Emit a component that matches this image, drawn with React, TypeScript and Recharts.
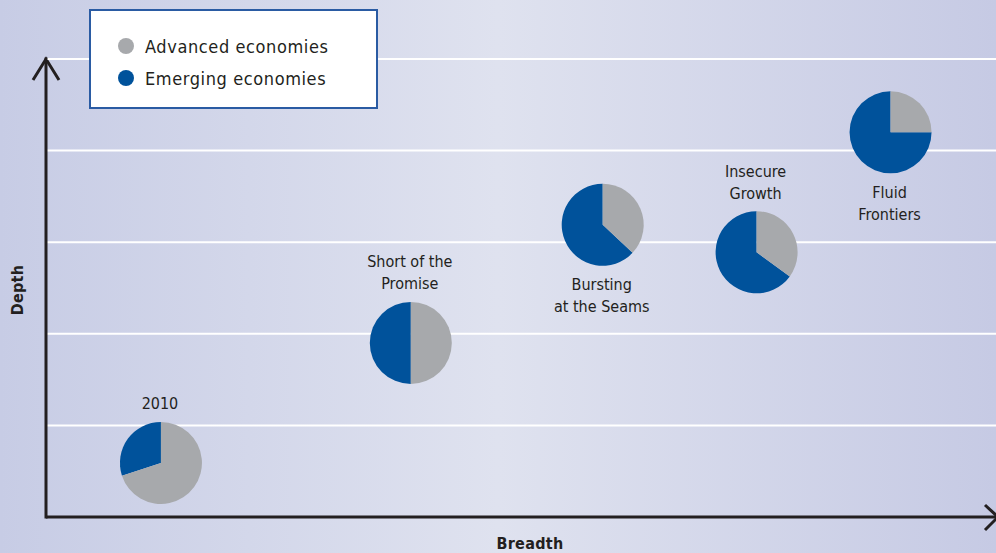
import React from 'react';
import {
  ScatterChart,
  Scatter,
  XAxis,
  YAxis,
  ReferenceLine,
  Sector,
  Legend,
  Customized,
} from 'recharts';

const scenarioLines = [
  ['2010'],
  ['Short of the', 'Promise'],
  ['Bursting', 'at the Seams'],
  ['Insecure', 'Growth'],
  ['Fluid', 'Frontiers'],
];
const breadth = [12.1, 38.4, 58.6, 74.8, 88.9];
const depth = [0.59, 1.9, 3.19, 2.89, 4.2];
const advancedShare = [70, 50, 37, 35, 25];
const emergingShare = [30, 50, 63, 65, 75];
const seriesNames = ['Advanced economies', 'Emerging economies'];
const depthTicks = [0, 1, 2, 3, 4, 5];

// which side of the pie the scenario name sits on
const labelSide = ['above', 'above', 'below', 'above', 'below'];

const W = 996;
const H = 553;
const Y_AXIS_W = 46;
const X_AXIS_H = 36;
const TOP = 59;
const GREY = '#a7a9ac';
const BLUE = '#00529b';
const INK = '#231f20';
const FONT = '"Liberation Sans Narrow", "DejaVu Sans Condensed", "Liberation Sans", sans-serif';
const R = 41;

const data = breadth.map((b, i) => ({
  breadth: b,
  depth: depth[i],
  advanced: advancedShare[i],
  emerging: emergingShare[i],
  lines: scenarioLines[i],
  side: labelSide[i],
}));

function PieMark(props: any) {
  const { cx, cy, payload } = props;
  const total = payload.advanced + payload.emerging;
  const split = 90 + (payload.emerging / total) * 360;
  const lh = 22;
  const lines: string[] = payload.lines;
  const firstY =
    payload.side === 'above'
      ? cy - R - 18 - (lines.length - 1) * lh
      : cy + R + 19;
  return (
    <g>
      <Sector cx={cx} cy={cy} innerRadius={0} outerRadius={R} startAngle={90} endAngle={split} fill={BLUE} />
      <Sector cx={cx} cy={cy} innerRadius={0} outerRadius={R} startAngle={split} endAngle={450} fill={GREY} />
      {lines.map((l, k) => (
        <text
          key={k}
          x={cx - 1}
          y={firstY + k * lh}
          textAnchor="middle"
          dominantBaseline="central"
          fill={INK}
          style={{ fontFamily: FONT, fontSize: 16 }}
        >
          {l}
        </text>
      ))}
    </g>
  );
}

function Arrows() {
  const L = Y_AXIS_W;
  const B = H - X_AXIS_H;
  const Rt = W;
  return (
    <g stroke={INK} strokeWidth={3} fill="none">
      <polyline points={`${L - 13},${TOP + 21} ${L},${TOP} ${L + 13},${TOP + 21}`} />
      <polyline points={`${Rt - 11},${B - 12} ${Rt + 2},${B} ${Rt - 11},${B + 13}`} />
    </g>
  );
}

function LegendBox() {
  const colors = [GREY, BLUE];
  return (
    <div
      style={{
        position: 'relative',
        width: 289,
        height: 100,
        boxSizing: 'border-box',
        background: '#fff',
        border: '2px solid #2a5ba3',
        fontFamily: FONT,
      }}
    >
      {seriesNames.map((n, i) => (
        <div key={n} style={{ position: 'absolute', left: 27, top: 23 + i * 32, height: 24, display: 'flex', alignItems: 'center' }}>
          <span style={{ width: 16, height: 16, borderRadius: 8, background: colors[i], display: 'inline-block' }} />
          <span style={{ marginLeft: 11, fontSize: 18, color: INK, letterSpacing: 0.6 }}>{n}</span>
        </div>
      ))}
    </div>
  );
}

export default function App() {
  return (
    <div
      style={{
        width: W,
        height: H,
        background: 'linear-gradient(to right, #c7cce5 0%, #dfe2ef 50%, #c6cae4 100%)',
      }}
    >
      <style>{'body{margin:0}'}</style>
      <ScatterChart width={W} height={H} margin={{ top: TOP, right: 0, bottom: 0, left: 0 }}>
        <XAxis
          dataKey="breadth"
          type="number"
          domain={[0, 100]}
          height={X_AXIS_H}
          tick={false}
          tickLine={false}
          axisLine={{ stroke: INK, strokeWidth: 3 }}
          label={(p: any) => {
            const vb = p.viewBox;
            return (
              <text
                x={vb.x + vb.width / 2 + 9}
                y={vb.y + 26}
                textAnchor="middle"
                dominantBaseline="central"
                fill={INK}
                style={{ fontFamily: FONT, fontSize: 16, fontWeight: 700, letterSpacing: 0.3 }}
              >
                Breadth
              </text>
            );
          }}
        />
        <YAxis
          dataKey="depth"
          type="number"
          domain={[0, 5]}
          ticks={depthTicks}
          width={Y_AXIS_W}
          tick={false}
          tickLine={false}
          axisLine={{ stroke: INK, strokeWidth: 3, strokeLinecap: 'square' }}
          label={(p: any) => {
            const vb = p.viewBox;
            const x = 17;
            const y = vb.y + vb.height / 2 + 2;
            return (
              <text
                x={x}
                y={y}
                transform={`rotate(-90, ${x}, ${y})`}
                textAnchor="middle"
                dominantBaseline="central"
                fill={INK}
                style={{ fontFamily: FONT, fontSize: 16, fontWeight: 700, letterSpacing: 0.3 }}
              >
                Depth
              </text>
            );
          }}
        />
        {depthTicks.slice(1).map((t) => (
          <ReferenceLine key={t} y={t} stroke="#ffffff" strokeWidth={2} />
        ))}
        <Scatter data={data} dataKey="depth" shape={PieMark} isAnimationActive={false} />
        <Customized component={Arrows} />
        <Legend
          layout="horizontal"
          verticalAlign="middle"
          align="center"
          wrapperStyle={{ left: 89, top: 9, width: 289, height: 100 }}
          content={() => <LegendBox />}
        />
      </ScatterChart>
    </div>
  );
}
